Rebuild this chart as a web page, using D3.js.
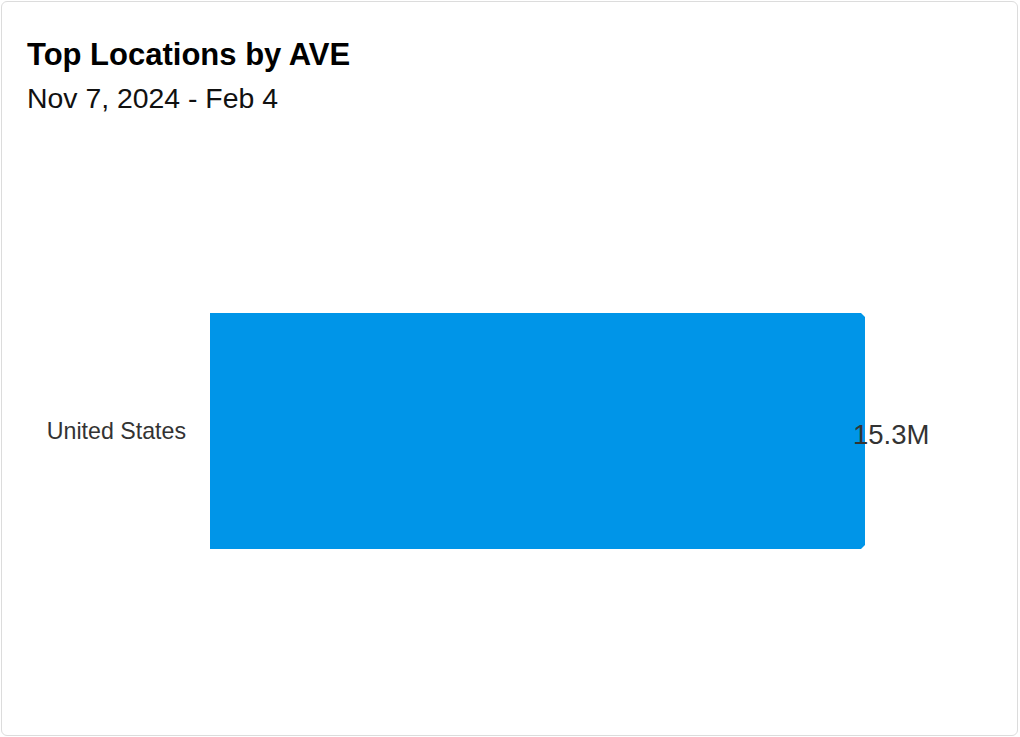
<!DOCTYPE html>
<html>
<head>
<meta charset="utf-8">
<script src="https://cdn.jsdelivr.net/npm/d3@7"></script>
<style>
  html, body { margin: 0; padding: 0; background: #fff; }
  body { width: 1020px; height: 737px; overflow: hidden; font-family: "Liberation Sans", Arial, sans-serif; }
  #card { position: absolute; left: 1px; top: 1px; width: 1015px; height: 733px;
          border: 1px solid #dcdcdc; border-radius: 6px; box-sizing: content-box; }
</style>
</head>
<body>
<div id="card"></div>
<script>
// top locations by AVE, single bar
let locations = ['United States']
let aveValues = [15300000]
let valueLabels = ['15.3M']
let chartTitle = 'Top Locations by AVE'
let dateRange = 'Nov 7, 2024 - Feb 4'

let svg = d3.select('body').append('svg')
    .attr('width', 1020).attr('height', 737)
    .style('position', 'absolute').style('left', 0).style('top', 0)

svg.append('text').attr('x', 27).attr('y', 65)
    .attr('font-size', 31).attr('font-weight', 'bold').attr('fill', '#000')
    .text(chartTitle)
svg.append('text').attr('x', 27).attr('y', 108)
    .attr('font-size', 28.4).attr('fill', '#111')
    .text(dateRange)

let x = d3.scaleLinear().domain([0, d3.max(aveValues)]).range([210, 865])
let y = d3.scaleBand().domain(locations).range([282, 580]).paddingInner(0.2).paddingOuter(0.105)

// bar with small clipped right corners
let r = 4
svg.selectAll('path.bar')
    .data(locations)
    .enter()
    .append('path')
    .attr('class', 'bar')
    .attr('fill', '#0095e8')
    .attr('d', (d, i) => {
        let x0 = x(0), x1 = x(aveValues[i]), y0 = y(d), y1 = y(d) + y.bandwidth()
        return `M${x0},${y0}H${x1 - r}L${x1},${y0 + r}V${y1 - r}L${x1 - r},${y1}H${x0}Z`
    })

// category labels
svg.selectAll('text.cat')
    .data(locations)
    .enter()
    .append('text')
    .attr('class', 'cat')
    .attr('x', 186)
    .attr('y', d => y(d) + y.bandwidth() / 2 + 8)
    .attr('text-anchor', 'end')
    .attr('font-size', 23.2)
    .attr('fill', '#333')
    .text(d => d)

// value labels
svg.selectAll('text.val')
    .data(locations)
    .enter()
    .append('text')
    .attr('class', 'val')
    .attr('x', (d, i) => x(aveValues[i]) - 12)
    .attr('y', d => y(d) + y.bandwidth() / 2 + 13)
    .attr('font-size', 27.5)
    .attr('fill', '#333')
    .text((d, i) => valueLabels[i])
</script>
</body>
</html>
